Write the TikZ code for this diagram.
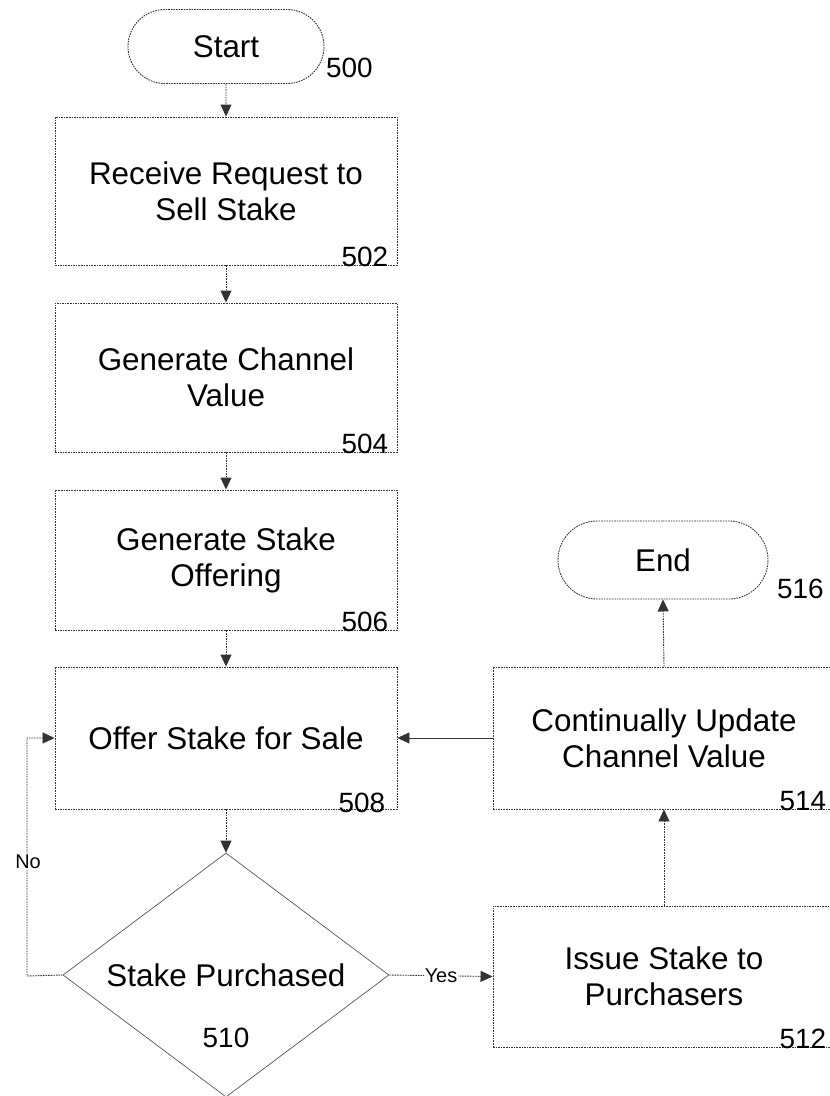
\documentclass[tikz,border=0pt]{standalone}
\usepackage{fontspec}
\setmainfont{Liberation Sans}
\usetikzlibrary{arrows.meta,shapes.geometric,shapes.misc}
\begin{document}
\begin{tikzpicture}[x=1bp,y=-1bp,
  dotline/.style={draw=black!80,line width=0.9bp,dash pattern=on 1.6bp off 1bp},
  procbox/.style={dotline,rectangle,minimum width=342bp,inner sep=0pt,align=center,font=\fontsize{31.5}{36}\selectfont},
  term/.style={dotline,rounded rectangle,minimum width=196bp,minimum height=74bp,inner sep=0pt,font=\fontsize{31.5}{36}\selectfont},
  decis/.style={draw=black!75,line width=0.6bp,diamond,aspect=1.336,minimum width=326bp,minimum height=244bp,inner sep=0pt},
  numlab/.style={font=\fontsize{28}{32}\selectfont,inner sep=0pt},
  smalllab/.style={font=\fontsize{20}{22}\selectfont,fill=white,inner sep=1bp},
  flow/.style={dotline,-{Triangle[length=12bp,width=11bp]}},
  solidflow/.style={draw=black!80,line width=0.7bp,-{Triangle[length=12bp,width=11bp]}}
]
\useasboundingbox (0,0) rectangle (830,1096);
\clip (0,0) rectangle (830,1096);
% nodes
\node[term] (start) at (226,46.5) {Start};
\node[numlab,anchor=west] (l500) at (326,68) {500};
\node[procbox,minimum height=148bp] (b502) at (226,191) {Receive Request to\\Sell Stake};
\node[numlab,anchor=south east] (l502) at ([xshift=-9bp,yshift=-2bp]b502.south east) {502};
\node[procbox,minimum height=149bp] (b504) at (226,377.5) {Generate Channel\\Value};
\node[numlab,anchor=south east] (l504) at ([xshift=-9bp,yshift=-2bp]b504.south east) {504};
\node[procbox,minimum height=140bp] (b506) at (226,560) {Generate Stake\\Offering};
\node[numlab,anchor=south east] (l506) at ([xshift=-9bp,yshift=-2bp]b506.south east) {506};
\node[procbox,minimum height=142bp] (b508) at (226,738) {Offer Stake for Sale};
\node[numlab,anchor=south east] (l508) at ([xshift=-12bp,yshift=-4bp]b508.south east) {508};
\node[decis] (d510) at (226,975) {};
\node[font=\fontsize{31.5}{36}\selectfont] (t510) at (226,975) {Stake Purchased};
\node[numlab] (l510) at (226,1038) {510};
\node[procbox,minimum height=141bp] (b512) at (664,976.5) {Issue Stake to\\Purchasers};
\node[numlab,anchor=south east] (l512) at ([xshift=-9bp,yshift=-2bp]b512.south east) {512};
\node[procbox,minimum height=142bp] (b514) at (664,738) {Continually Update\\Channel Value};
\node[numlab,anchor=south east] (l514) at ([xshift=-9bp,yshift=-2bp]b514.south east) {514};
\node[term,minimum width=210bp,minimum height=78bp] (end) at (663,560) {End};
\node[numlab,anchor=west] (l516) at (777,589) {516};
% connectors
\draw[flow] (start) -- (b502);
\draw[flow] (b502) -- (b504);
\draw[flow] (b504) -- (b506);
\draw[flow] (b506) -- (b508);
\draw[flow] (b508) -- (d510);
\coordinate (nob) at (27,976);
\coordinate (not) at (27,738);
\draw[flow] (d510.west) -- (nob) -- (not) -- (b508.west);
\node[smalllab] (nolab) at (28,862) {No};
\draw[flow] (d510.east) -- (b512.west);
\node[smalllab] (yeslab) at (441,976) {Yes};
\draw[flow] (b512.north) -- (b514.south);
\draw[solidflow] (b514.west) -- (b508.east);
\draw[flow] (b514.north) -- (end.south);
\end{tikzpicture}
\end{document}
